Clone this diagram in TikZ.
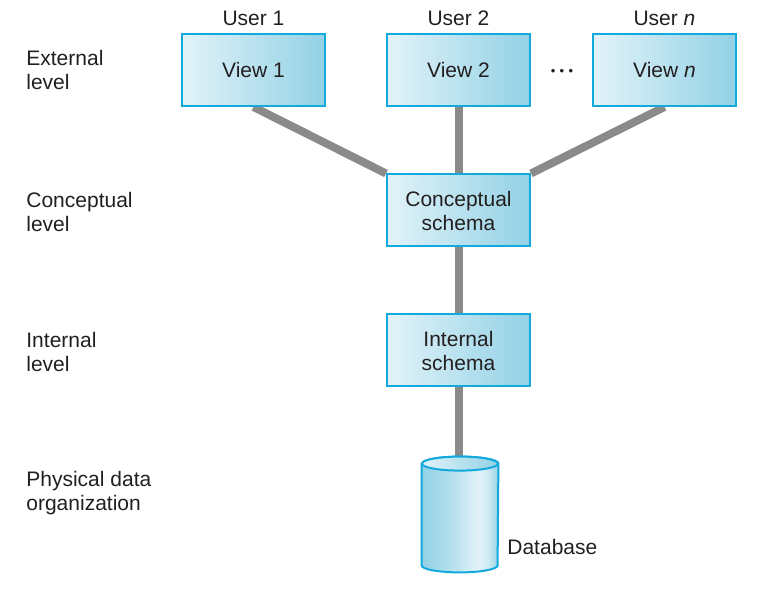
\documentclass[tikz,border=0pt]{standalone}
\usepackage{fontspec}
\setmainfont{Liberation Sans}
\usetikzlibrary{positioning,backgrounds}
\definecolor{schemaedge}{HTML}{12A9DD}
\definecolor{schemalight}{HTML}{E2F3F9}
\definecolor{schemadeep}{HTML}{92D1E5}
\definecolor{mapgray}{HTML}{8A8A8A}
\definecolor{labelink}{HTML}{231F20}
\pgfdeclarehorizontalshading{dbshade}{100bp}{%
  color(0bp)=(schemadeep); color(25bp)=(schemadeep);
  color(45bp)=(schemadeep!55!schemalight); color(62bp)=(schemalight);
  color(69bp)=(schemalight!70!schemadeep); color(75bp)=(schemadeep);
  color(100bp)=(schemadeep)}

\begin{document}
\begin{tikzpicture}[x=0.5pt, y=-0.5pt,
                    every node/.style={labelink, font=\fontsize{10.5}{12}\selectfont},
                    schemabox/.style={draw=schemaedge, line width=1pt,
                                      left color=schemalight, right color=schemadeep,
                                      minimum width=71.5pt, minimum height=36pt,
                                      align=center, inner sep=0pt},
                    levelname/.style={anchor=west, align=left, inner sep=0pt},
                    mapping/.style={mapgray, line width=4pt}]

  \useasboundingbox (0,0) rectangle (778,614);

  %% external views
  \node[schemabox] (view1) at (253.5,70) {View 1};
  \node[schemabox] (view2) at (458.5,70) {View 2};
  \node[schemabox] (viewn) at (664.5,70) {View \textit{n}};
  \node[above=0pt of view1] (user1) {User 1};
  \node[above=0pt of view2] (user2) {User 2};
  \node[above=0pt of viewn] (usern) {User \textit{n}};
  \node[font=\fontsize{6.5}{8}\selectfont] (dots) at (562,72)
    {\textbullet\hspace{2.2pt}\textbullet\hspace{2.2pt}\textbullet};

  %% conceptual and internal schema
  \node[schemabox] (concept) at (458.5,210.5) {Conceptual\\schema};
  \node[schemabox] (internal) at (458.5,350.5) {Internal\\schema};

  %% database
  \node[minimum width=38pt, minimum height=50.5pt, inner sep=0pt] (db) at (460,514.5) {};
  \path[shading=dbshade, draw=schemaedge, line width=1pt]
    (db.north west) -- (db.south west)
    arc[start angle=180, end angle=360, x radius=19pt, y radius=3.5pt]
    -- (db.north east)
    arc[start angle=0, end angle=180, x radius=19pt, y radius=3.5pt] -- cycle;
  \draw[schemaedge, line width=1pt, left color=schemalight, right color=schemadeep]
    (db.north) ellipse[x radius=19pt, y radius=3.5pt];
  \node[anchor=west, inner sep=0pt] (dblabel) at (507,547) {Database};

  %% level names
  \node[levelname] (extlevel) at (26,70) {External\\level};
  \node[levelname] (conlevel) at (26,212) {Conceptual\\level};
  \node[levelname] (intlevel) at (26,352) {Internal\\level};
  \node[levelname] (phylevel) at (26,493) {Physical data\\organization};

  %% mappings
  \begin{scope}[on background layer]
    \draw[mapping] (view1.south) -- (concept.north west);
    \draw[mapping] (view2) -- (concept);
    \draw[mapping] (viewn.south) -- (concept.north east);
    \draw[mapping] (concept) -- (internal);
    \draw[mapping] (internal) -- (internal |- db.north);
  \end{scope}

\end{tikzpicture}
\end{document}
